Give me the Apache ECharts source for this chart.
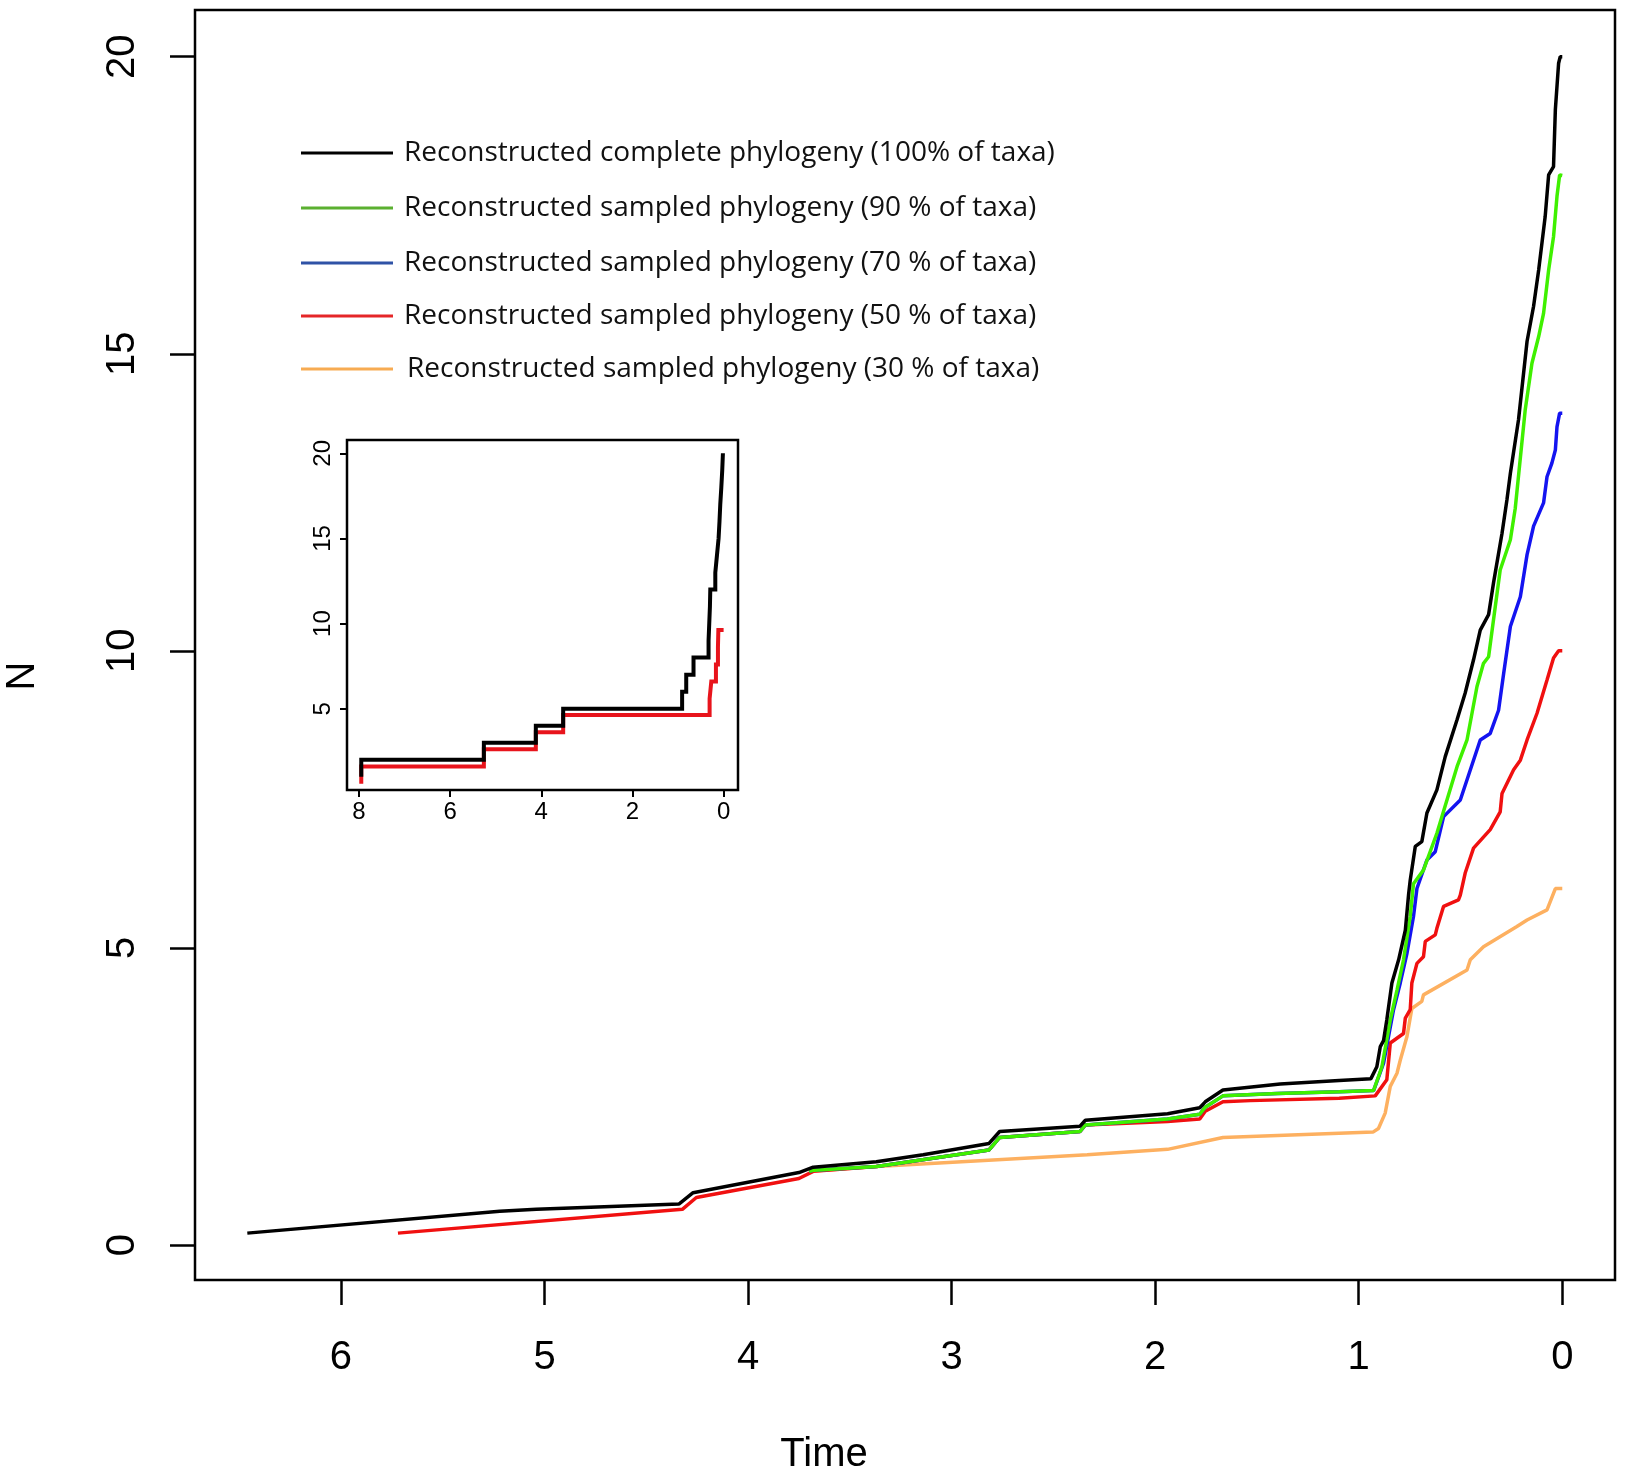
<!DOCTYPE html>
<html>
<head>
<meta charset="utf-8">
<script src="https://cdn.jsdelivr.net/npm/echarts@6/dist/echarts.min.js"></script>
<style>html,body{margin:0;padding:0;background:#fff}#c{width:1625px;height:1477px}</style>
</head>
<body>
<div id="c"></div>
<script>
// ---------- main chart data (Time before present, N) ----------
const seriesNames = [
  "Reconstructed complete phylogeny (100% of taxa)",
  "Reconstructed sampled phylogeny (90 % of taxa)",
  "Reconstructed sampled phylogeny (70 % of taxa)",
  "Reconstructed sampled phylogeny (50 % of taxa)",
  "Reconstructed sampled phylogeny (30 % of taxa)"
];
const xTicks = [0, 1, 2, 3, 4, 5, 6];
const yTicks = [0, 5, 10, 15, 20];
const insetXTicks = [0, 2, 4, 6, 8];
const insetYTicks = [5, 10, 15, 20];

const blackTime = [6.46,5.22,5.04,4.34,4.27,3.75,3.68,3.37,3.14,2.816,2.764,2.369,2.343,1.939,1.781,1.754,1.667,1.386,1.096,0.94,0.911,0.894,0.878,0.862,0.837,0.804,0.771,0.755,0.747,0.722,0.69,0.665,0.616,0.575,0.517,0.477,0.436,0.403,0.362,0.338,0.296,0.272,0.255,0.215,0.173,0.141,0.116,0.084,0.067,0.043,0.034,0.018,0.01,0];
const blackN    = [0.20,0.57,0.60,0.69,0.88,1.22,1.31,1.40,1.52,1.71,1.91,2.00,2.10,2.21,2.31,2.41,2.61,2.71,2.77,2.80,3.00,3.34,3.44,3.79,4.41,4.80,5.30,5.90,6.14,6.71,6.79,7.27,7.66,8.22,8.84,9.29,9.85,10.35,10.61,11.14,11.98,12.54,12.99,13.89,15.21,15.80,16.41,17.31,18.01,18.15,19.11,19.89,20.0,20.0];

const greenTime = [3.70,3.676,3.369,2.816,2.764,2.369,2.343,1.939,1.781,1.754,1.667,1.40,1.096,0.927,0.919,0.886,0.845,0.812,0.78,0.747,0.731,0.682,0.616,0.517,0.468,0.419,0.387,0.362,0.338,0.305,0.255,0.231,0.182,0.149,0.116,0.092,0.067,0.043,0.026,0.013,0];
const greenN    = [1.24,1.26,1.32,1.60,1.81,1.91,2.02,2.12,2.20,2.32,2.51,2.55,2.58,2.60,2.61,3.00,3.79,4.29,4.80,5.53,6.08,6.31,6.93,8.05,8.50,9.40,9.79,9.90,10.52,11.36,11.87,12.40,14.06,14.84,15.29,15.68,16.41,16.97,17.65,18.01,18.0];

const blueTime = [3.70,3.676,3.369,2.816,2.764,2.369,2.343,1.939,1.781,1.754,1.667,1.40,1.096,0.927,0.90,0.878,0.829,0.796,0.763,0.731,0.714,0.665,0.624,0.583,0.501,0.403,0.354,0.313,0.288,0.255,0.206,0.173,0.141,0.092,0.075,0.051,0.034,0.026,0.013,0];
const blueN    = [1.24,1.26,1.32,1.60,1.81,1.91,2.02,2.12,2.20,2.32,2.51,2.55,2.58,2.60,2.85,3.06,3.96,4.41,4.91,5.53,6.00,6.48,6.62,7.21,7.49,8.50,8.61,9.00,9.62,10.41,10.91,11.62,12.10,12.49,12.93,13.16,13.38,13.77,14.0,14.0];

const redTime = [5.72,4.323,4.254,3.75,3.68,3.369,2.816,2.764,2.369,2.343,1.939,1.781,1.754,1.667,1.533,1.096,0.919,0.862,0.845,0.780,0.771,0.747,0.739,0.714,0.682,0.673,0.624,0.616,0.583,0.51,0.501,0.477,0.436,0.354,0.305,0.296,0.239,0.206,0.173,0.124,0.075,0.043,0.018,0];
const redN    = [0.20,0.60,0.80,1.12,1.24,1.32,1.60,1.81,1.91,2.02,2.08,2.12,2.25,2.41,2.43,2.47,2.51,2.78,3.40,3.56,3.82,3.96,4.41,4.74,4.85,5.11,5.22,5.33,5.70,5.81,5.89,6.26,6.68,6.99,7.29,7.60,8.00,8.16,8.50,8.95,9.51,9.88,10.0,10.0];

const orangeTime = [3.70,3.369,2.334,1.939,1.667,1.096,0.93,0.903,0.870,0.845,0.812,0.796,0.763,0.739,0.69,0.682,0.468,0.452,0.387,0.223,0.173,0.075,0.034,0];
const orangeN    = [1.24,1.32,1.52,1.61,1.81,1.88,1.90,1.96,2.22,2.67,2.89,3.11,3.51,3.98,4.10,4.21,4.63,4.80,5.02,5.36,5.47,5.64,6.00,6.00];

// ---------- inset (step curves) ----------
const insetBlackStart = 1.0;
const insetBlackJumpTime = [7.95,5.26,4.12,3.52,0.91,0.82,0.66,0.33,0.315,0.30,0.292,0.182,0.146,0.11,0.09,0.073,0.05,0.03,0.015];
const insetBlackLevel    = [2,3,4,5,6,7,8,9,10,11,12,13,14,15,16,17,18,19,20];
const insetRedStart = 0.6;
const insetRedJumpTime = [7.95,5.26,4.12,3.52,0.307,0.27,0.168,0.124,0.115];
const insetRedLevel    = [1.6,2.62,3.62,4.63,5.6,6.6,7.6,8.6,9.62];
const insetEndTime = 0;

// ---------- colours ----------
const lineColors   = ['#000000', '#3ff000', '#1414f0', '#f01010', '#fdb060'];
const legendColors = ['#000000', '#5bb030', '#2f52a6', '#e52628', '#f7ab52'];

function zip(t, n) { return t.map((v, i) => [v, n[i]]); }
function steps(start, jt, lv, end) {
  const pts = [[jt[0], start]];
  for (let i = 0; i < jt.length; i++) {
    pts.push([jt[i], lv[i]]);
    const next = (i + 1 < jt.length) ? jt[i + 1] : end;
    pts.push([next, lv[i]]);
  }
  return pts;
}

const FONT = "'Liberation Sans', Arial, Helvetica, sans-serif";
const chart = echarts.init(document.getElementById('c'), null, { renderer: 'canvas' });

const mainData = [zip(blackTime, blackN), zip(greenTime, greenN), zip(blueTime, blueN), zip(redTime, redN), zip(orangeTime, orangeN)];
const zOrder = [5, 4, 3, 2, 1];

const series = mainData.map((d, i) => ({
  name: seriesNames[i], type: 'line', xAxisIndex: 0, yAxisIndex: 0,
  data: d, showSymbol: false, symbol: 'none', z: zOrder[i],
  lineStyle: { color: lineColors[i], width: 3.5 }, itemStyle: { color: lineColors[i] },
  animation: false
}));
series.push({
  name: 'inset-red', type: 'line', xAxisIndex: 1, yAxisIndex: 1,
  data: steps(insetRedStart, insetRedJumpTime, insetRedLevel, insetEndTime),
  symbol: 'none', z: 10, lineStyle: { color: '#e8141c', width: 4, cap: 'butt', join: 'miter' }, animation: false
});
series.push({
  name: 'inset-black', type: 'line', xAxisIndex: 1, yAxisIndex: 1,
  data: steps(insetBlackStart, insetBlackJumpTime, insetBlackLevel, insetEndTime),
  symbol: 'none', z: 11, lineStyle: { color: '#000', width: 4, cap: 'butt', join: 'miter' }, animation: false
});

const legendTops = [132, 187, 242, 295, 348];
const legendTextPad = [6, 6, 6, 6, 9];
const legends = seriesNames.map((nm, i) => ({
  data: [{ name: nm, itemStyle: { color: legendColors[i] } }],
  left: 296, top: legendTops[i], orient: 'vertical',
  icon: 'rect', itemWidth: 92, itemHeight: 3, selectedMode: false,
  textStyle: { fontFamily: "'Open Sans', sans-serif", fontSize: 28, color: '#111', lineHeight: 32, padding: [0, 0, 0, legendTextPad[i]] }
}));

chart.setOption({
  backgroundColor: '#ffffff',
  animation: false,
  legend: legends,
  grid: [
    { left: 195, top: 10, width: 1420, height: 1270, show: true, borderColor: '#000', borderWidth: 2.5, backgroundColor: 'transparent', z: 0 },
    { left: 347, top: 440, width: 391, height: 350, show: true, borderColor: '#000', borderWidth: 2.5, backgroundColor: '#fff', z: 8 }
  ],
  xAxis: [
    { type: 'value', gridIndex: 0, inverse: true, min: -0.259, max: 6.717, position: 'bottom',
      axisLine: { show: false, onZero: false }, splitLine: { show: false },
      axisTick: { show: true, inside: false, length: 25, customValues: xTicks, lineStyle: { color: '#000', width: 2.5 } },
      axisLabel: { customValues: xTicks, margin: 58, fontSize: 40, fontFamily: FONT, color: '#000' } },
    { type: 'value', gridIndex: 1, inverse: true, min: -0.316, max: 8.263, z: 9, position: 'bottom',
      axisLine: { show: false, onZero: false }, splitLine: { show: false },
      axisTick: { show: true, inside: false, length: 7, customValues: insetXTicks, lineStyle: { color: '#000', width: 2 } },
      axisLabel: { customValues: insetXTicks, margin: 10, fontSize: 24, fontFamily: FONT, color: '#000' } }
  ],
  yAxis: [
    { type: 'value', gridIndex: 0, min: -0.589, max: 20.786, position: 'left',
      axisLine: { show: false, onZero: false }, splitLine: { show: false },
      axisTick: { show: true, inside: false, length: 25, customValues: yTicks, lineStyle: { color: '#000', width: 2.5 } },
      axisLabel: { customValues: yTicks, rotate: 90, margin: 52, fontSize: 40, fontFamily: FONT, color: '#000' } },
    { type: 'value', gridIndex: 1, min: 0.226, max: 20.78, z: 9, position: 'left',
      axisLine: { show: false, onZero: false }, splitLine: { show: false },
      axisTick: { show: true, inside: false, length: 7, customValues: insetYTicks, lineStyle: { color: '#000', width: 2 } },
      axisLabel: { customValues: insetYTicks, rotate: 90, margin: 12, fontSize: 24, fontFamily: FONT, color: '#000' } }
  ],
  graphic: [
    { type: 'text', x: 824, y: 1455, style: { text: 'Time', font: '40px ' + FONT, fill: '#000', textAlign: 'center', textVerticalAlign: 'middle' } },
    { type: 'text', x: 23, y: 676, rotation: Math.PI / 2, style: { text: 'N', font: '40px ' + FONT, fill: '#000', textAlign: 'center', textVerticalAlign: 'middle' } }
  ],
  series: series
});
</script>
</body>
</html>
